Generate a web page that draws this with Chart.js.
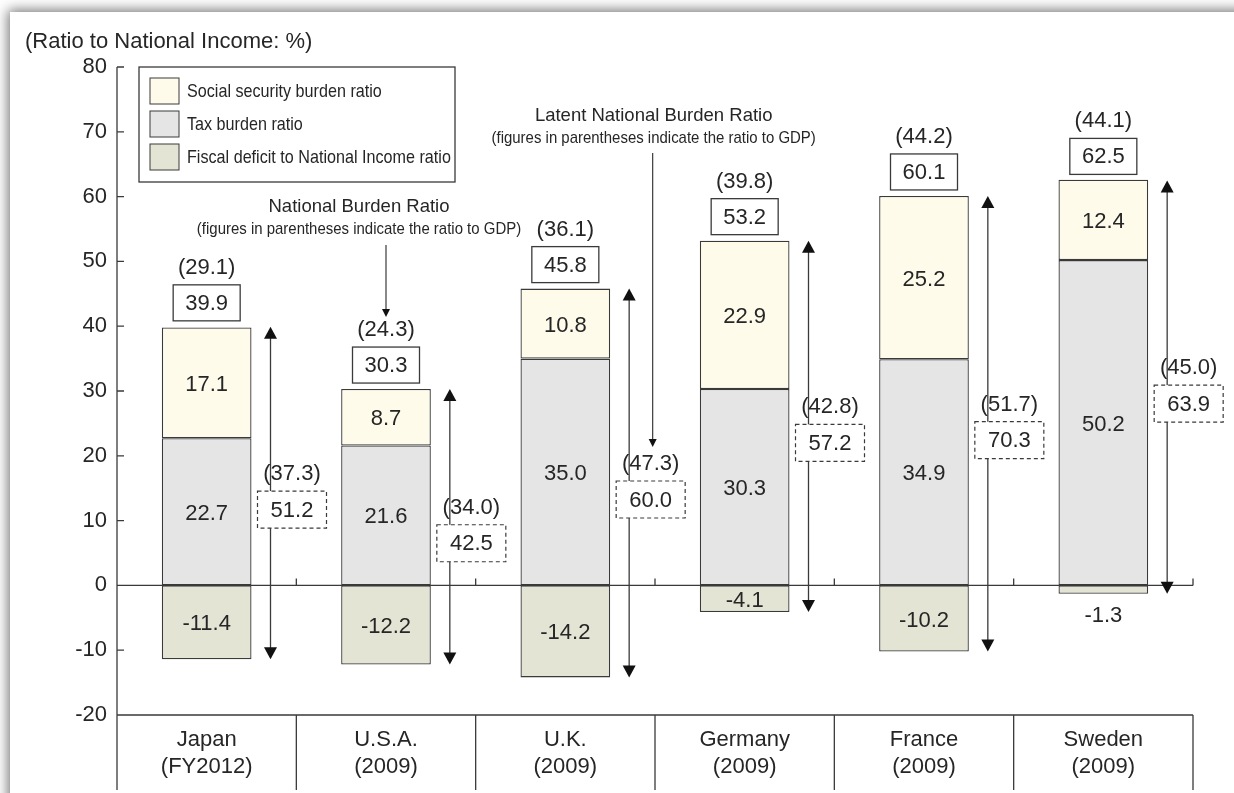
<!DOCTYPE html>
<html>
<head>
<meta charset="utf-8">
<script src="https://cdn.jsdelivr.net/npm/chart.js@4.4.1/dist/chart.umd.min.js"></script>
<style>
  html, body { margin: 0; padding: 0; background: #ffffff; overflow: hidden; }
  #frame { position: absolute; left: 10px; top: 12px; width: 1400px; height: 900px; background: #ffffff;
           box-shadow: -2px -2px 12px rgba(0,0,0,0.55); }
  #wrap { position: absolute; left: 0; top: 0; width: 1234px; height: 793px; }
</style>
</head>
<body>
<div id="frame"></div>
<div id="wrap"><canvas id="c" width="1234" height="793"></canvas></div>
<script>
// ---------------- data ----------------
const categories = [['Japan', '(FY2012)'], ['U.S.A.', '(2009)'], ['U.K.', '(2009)'], ['Germany', '(2009)'], ['France', '(2009)'], ['Sweden', '(2009)']];
const socialSecurity = [17.1, 8.7, 10.8, 22.9, 25.2, 12.4];
const taxBurden = [22.7, 21.6, 35.0, 30.3, 34.9, 50.2];
const fiscalDeficit = [-11.4, -12.2, -14.2, -4.1, -10.2, -1.3];
const nationalBurden = [39.9, 30.3, 45.8, 53.2, 60.1, 62.5];
const nationalBurdenGDP = [29.1, 24.3, 36.1, 39.8, 44.2, 44.1];
const latentBurden = [51.2, 42.5, 60.0, 57.2, 70.3, 63.9];
const latentBurdenGDP = [37.3, 34.0, 47.3, 42.8, 51.7, 45.0];
const yMin = -20, yMax = 80, yStep = 10;
const legendLabels = ['Social security burden ratio', 'Tax burden ratio', 'Fiscal deficit to National Income ratio'];
const axisTitle = '(Ratio to National Income: %)';
const noteNational = ['National Burden Ratio', '(figures in parentheses indicate the ratio to GDP)'];
const noteLatent = ['Latent National Burden Ratio', '(figures in parentheses indicate the ratio to GDP)'];

// ---------------- styles ----------------
const FONT = '"Liberation Sans", Arial, sans-serif';
const TXT = '#262626';
const LINE = '#3a3a3a';
const C_SOCIAL = '#FEFBEA', C_TAX = '#E5E5E5', C_DEF = '#E3E4D4';
const F_MAIN = '22px ' + FONT;

function fmt(v) { return v.toFixed(1); }

// draw horizontally condensed text (emulates a narrow font)
function narrowText(ctx, text, x, y, sx, align) {
  ctx.save();
  ctx.translate(x, y);
  ctx.scale(sx, 1);
  ctx.textAlign = align;
  ctx.fillText(text, 0, 0);
  ctx.restore();
}

function arrowHead(ctx, x, tipY, dir, w, h) {
  ctx.beginPath();
  ctx.moveTo(x, tipY);
  ctx.lineTo(x - w / 2, tipY - dir * h);
  ctx.lineTo(x + w / 2, tipY - dir * h);
  ctx.closePath();
  ctx.fill();
}

const overlay = {
  id: 'overlay',
  afterDatasetsDraw(chart) {
    const ctx = chart.ctx, xs = chart.scales.x, ys = chart.scales.y, ca = chart.chartArea;
    const n = categories.length;
    const catW = (ca.right - ca.left) / n;
    const barHalf = catW * 0.5 / 2;
    ctx.save();
    ctx.fillStyle = TXT; ctx.strokeStyle = LINE;

    // axis lines / table
    ctx.lineWidth = 1.3;
    const y0 = ys.getPixelForValue(0), yB = ys.getPixelForValue(yMin), tableBottom = 790;
    ctx.beginPath();
    ctx.moveTo(ca.left, ca.top); ctx.lineTo(ca.left, tableBottom);
    ctx.moveTo(ca.left, y0); ctx.lineTo(ca.right, y0);
    ctx.moveTo(ca.left, yB); ctx.lineTo(ca.right, yB);
    for (let i = 1; i <= n; i++) {
      const bx = ca.left + catW * i;
      ctx.moveTo(bx, y0); ctx.lineTo(bx, y0 - 7);
      ctx.moveTo(bx, yB); ctx.lineTo(bx, tableBottom);
    }
    for (let v = yMin; v <= yMax; v += yStep) {
      const ty = ys.getPixelForValue(v);
      ctx.moveTo(ca.left, ty); ctx.lineTo(ca.left + 7, ty);
    }
    ctx.stroke();

    // category labels
    ctx.font = F_MAIN; ctx.textAlign = 'center'; ctx.textBaseline = 'middle';
    categories.forEach((c, i) => {
      const cx = xs.getPixelForValue(i);
      ctx.fillText(c[0], cx, yB + 25);
      ctx.fillText(c[1], cx, yB + 52);
    });

    // axis title
    ctx.textAlign = 'left';
    ctx.fillText(axisTitle, 25, 42);
    ctx.textAlign = 'center';

    // segment labels
    for (let i = 0; i < n; i++) {
      const cx = xs.getPixelForValue(i);
      const tTop = ys.getPixelForValue(taxBurden[i]);
      const sTop = ys.getPixelForValue(taxBurden[i] + socialSecurity[i]);
      const dBot = ys.getPixelForValue(fiscalDeficit[i]);
      ctx.fillText(fmt(taxBurden[i]), cx, (y0 + tTop) / 2 + 2);
      ctx.fillText(fmt(socialSecurity[i]), cx, (tTop + sTop) / 2 + 2);
      if (dBot - y0 > 22) ctx.fillText(fmt(fiscalDeficit[i]), cx, (y0 + dBot) / 2 + 2);
      else ctx.fillText(fmt(fiscalDeficit[i]), cx, dBot + 22);
    }

    // national burden boxes
    for (let i = 0; i < n; i++) {
      const cx = xs.getPixelForValue(i);
      const top = ys.getPixelForValue(nationalBurden[i]);
      const bh = 36, bw = 67;
      const bBottom = top - 6, bTop = bBottom - bh;
      ctx.fillStyle = '#fff';
      ctx.fillRect(cx - bw / 2, bTop, bw, bh);
      ctx.setLineDash([]); ctx.lineWidth = 1.3;
      ctx.strokeRect(cx - bw / 2, bTop, bw, bh);
      ctx.fillStyle = TXT;
      ctx.fillText(fmt(nationalBurden[i]), cx, bTop + bh / 2 + 1);
      ctx.fillText('(' + fmt(nationalBurdenGDP[i]) + ')', cx, bTop - 17);
    }

    // latent burden arrows + dashed boxes
    const latentParenY = [];
    for (let i = 0; i < n; i++) {
      const ax = xs.getPixelForValue(i) + barHalf + 19;
      const yT = ys.getPixelForValue(nationalBurden[i]);
      const yD = ys.getPixelForValue(fiscalDeficit[i]);
      ctx.lineWidth = 1.3; ctx.setLineDash([]);
      ctx.beginPath(); ctx.moveTo(ax, yT + 10); ctx.lineTo(ax, yD - 10); ctx.stroke();
      ctx.fillStyle = '#111';
      arrowHead(ctx, ax, yT, -1, 13, 12);
      arrowHead(ctx, ax, yD, 1, 13, 12);
      const mid = (yT + yD) / 2;
      const bx = ax - 13, bw = 69, bTop = mid - 2, bh = 37;
      ctx.fillStyle = '#fff';
      ctx.fillRect(bx, bTop, bw, bh);
      ctx.setLineDash([4, 3]); ctx.lineWidth = 1.2;
      ctx.strokeRect(bx, bTop, bw, bh);
      ctx.setLineDash([]);
      ctx.fillStyle = TXT;
      ctx.fillText(fmt(latentBurden[i]), bx + bw / 2, bTop + bh / 2 + 1);
      ctx.fillText('(' + fmt(latentBurdenGDP[i]) + ')', bx + bw / 2, mid - 19);
      latentParenY.push({ x: bx + bw / 2, y: mid - 19 });
    }

    // annotation: National Burden Ratio -> U.S.A.
    {
      const cx = xs.getPixelForValue(1);
      const top = ys.getPixelForValue(nationalBurden[1]);
      const parenY = top - 6 - 36 - 17;
      ctx.font = '18.5px ' + FONT;
      ctx.fillText(noteNational[0], cx - 27, 207);
      ctx.font = '17px ' + FONT;
      narrowText(ctx, noteNational[1], cx - 27, 229, 0.88, 'center');
      ctx.lineWidth = 1.2;
      ctx.beginPath(); ctx.moveTo(cx, 245); ctx.lineTo(cx, parenY - 20); ctx.stroke();
      ctx.fillStyle = '#111';
      arrowHead(ctx, cx, parenY - 13, 1, 8, 8);
      ctx.fillStyle = TXT;
    }
    // annotation: Latent National Burden Ratio -> U.K.
    {
      const p = latentParenY[2];
      ctx.font = '18.5px ' + FONT;
      ctx.fillText(noteLatent[0], p.x + 3, 116);
      ctx.font = '17px ' + FONT;
      narrowText(ctx, noteLatent[1], p.x + 3, 138, 0.88, 'center');
      ctx.lineWidth = 1.2;
      ctx.beginPath(); ctx.moveTo(p.x + 2, 153); ctx.lineTo(p.x + 2, p.y - 24); ctx.stroke();
      ctx.fillStyle = '#111';
      arrowHead(ctx, p.x + 2, p.y - 17, 1, 8, 8);
      ctx.fillStyle = TXT;
    }

    // legend
    {
      const lx = 139, ly = 67, lw = 316, lh = 115;
      ctx.fillStyle = '#fff'; ctx.fillRect(lx, ly, lw, lh);
      ctx.lineWidth = 1.3; ctx.strokeRect(lx, ly, lw, lh);
      const cols = [C_SOCIAL, C_TAX, C_DEF];
      const rows = [91, 124, 157];
      ctx.font = '19px ' + FONT;
      legendLabels.forEach((t, k) => {
        ctx.fillStyle = cols[k];
        ctx.fillRect(150, rows[k] - 13, 29, 26);
        ctx.lineWidth = 1; ctx.strokeRect(150, rows[k] - 13, 29, 26);
        ctx.fillStyle = TXT;
        narrowText(ctx, t, 187, rows[k] + 1, 0.85, 'left');
      });
    }
    ctx.restore();
  }
};

const barCommon = { borderColor: LINE, borderWidth: 1.3, borderSkipped: false, barPercentage: 1.0, categoryPercentage: 0.5 };

new Chart(document.getElementById('c'), {
  type: 'bar',
  data: {
    labels: categories.map(c => c.join(' ')),
    datasets: [
      Object.assign({ label: legendLabels[1], data: taxBurden, backgroundColor: C_TAX }, barCommon),
      Object.assign({ label: legendLabels[0], data: socialSecurity, backgroundColor: C_SOCIAL }, barCommon),
      Object.assign({ label: legendLabels[2], data: fiscalDeficit, backgroundColor: C_DEF }, barCommon)
    ]
  },
  options: {
    responsive: false,
    animation: false,
    layout: { padding: { top: 67, bottom: 78, right: 41, left: 0 } },
    plugins: { legend: { display: false }, tooltip: { enabled: false } },
    scales: {
      x: { display: false, stacked: true },
      y: {
        stacked: true, min: yMin, max: yMax,
        afterFit: (s) => { s.width = 117; },
        grid: { display: false, drawTicks: false },
        border: { display: false },
        ticks: { stepSize: yStep, padding: 10, color: TXT, font: { size: 22, family: FONT } }
      }
    }
  },
  plugins: [overlay]
});
</script>
</body>
</html>
